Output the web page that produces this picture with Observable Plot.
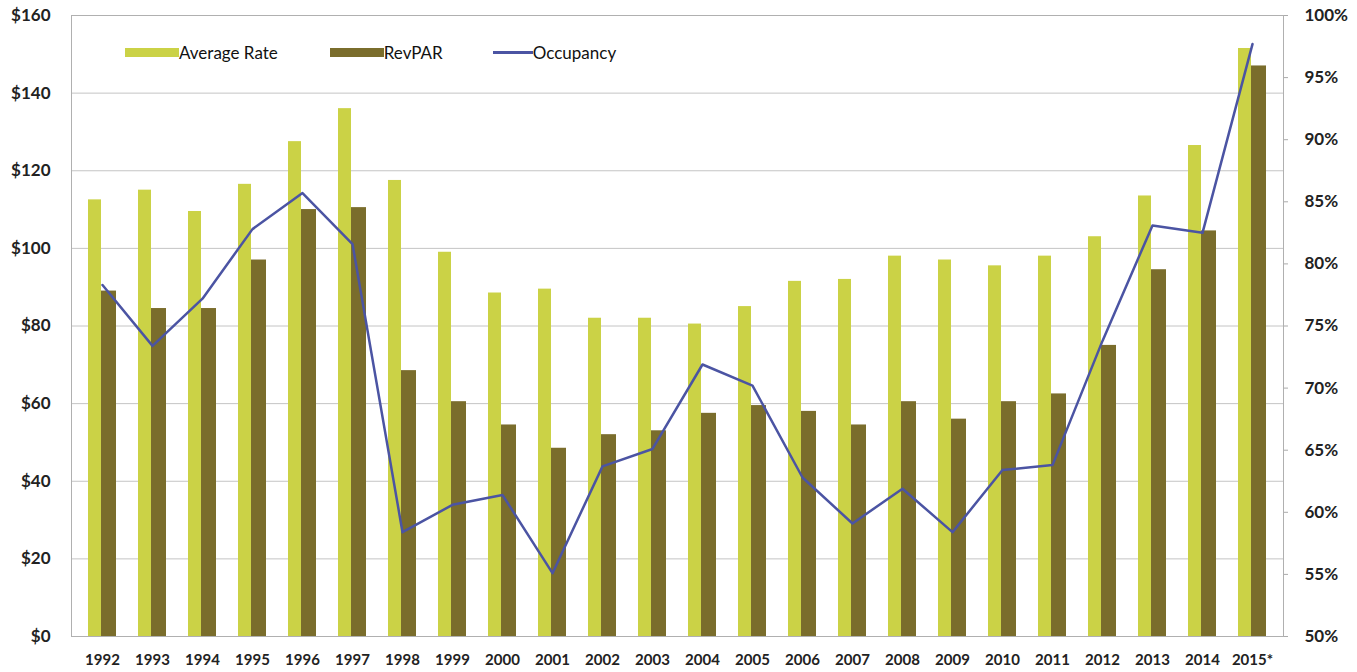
<!DOCTYPE html>
<html><head><meta charset="utf-8">
<script src="https://cdn.jsdelivr.net/npm/d3@7"></script>
<script src="https://cdn.jsdelivr.net/npm/@observablehq/plot@0.6"></script>
<style>
body{margin:0;background:#fff;font-family:Lato,"Open Sans",sans-serif;}
#wrap{position:relative;width:1357px;height:672px;}
#legend{position:absolute;top:42px;left:125px;display:flex;align-items:center;font-size:17px;color:#111;white-space:nowrap;}
.item{display:flex;align-items:center;}
.sw{display:inline-block;width:54px;height:9px;}
.ln{display:inline-block;width:40px;height:3px;}
</style></head>
<body><div id="wrap"><div id="legend"></div></div>
<script>
const years = ["1992","1993","1994","1995","1996","1997","1998","1999","2000","2001","2002","2003","2004","2005","2006","2007","2008","2009","2010","2011","2012","2013","2014","2015*"];
const avgRate = [112.5,115,109.5,116.5,127.5,136,117.5,99,88.5,89.5,82,82,80.5,85,91.5,92,98,97,95.5,98,103,113.5,126.5,151.5];
const revpar = [89,84.5,84.5,97,110,110.5,68.5,60.5,54.5,48.5,52,53,57.5,59.5,58,54.5,60.5,56,60.5,62.5,75,94.5,104.5,147];
const occupancy = [78.3,73.4,77.2,82.8,85.7,81.6,58.4,60.6,61.4,55.1,63.7,65.1,71.9,70.2,62.8,59.1,61.9,58.4,63.4,63.8,73.8,83.1,82.5,97.7];
const dollarTicks = [0,20,40,60,80,100,120,140,160];
const pctTicks = [50,55,60,65,70,75,80,85,90,95,100];
const seriesNames = ["Average Rate","RevPAR","Occupancy"];
const seriesColors = ["#cbd246","#7a6d2c","#4b54a3"];

const occToY = p => (p - 50) / 50 * 160;
const data = years.map((y,i)=>({year:y, avg:avgRate[i], rev:revpar[i], occ:occupancy[i]}));

const chart = Plot.plot({
  width:1357, height:672,
  marginLeft:71, marginRight:74, marginTop:15, marginBottom:36,
  style:{fontFamily:"Lato, 'Open Sans', sans-serif", background:"white", overflow:"visible"},
  x:{type:"band", domain:years, padding:0, axis:null},
  y:{domain:[0,160], axis:null},
  marks:[
    Plot.gridY(dollarTicks,{stroke:"#c4c4c4", strokeOpacity:1, strokeWidth:1}),
    Plot.frame({stroke:"#b0b0b0"}),
    Plot.barY(data,{x:"year", y:"avg", fill:seriesColors[0], insetLeft:11, insetRight:26}),
    Plot.barY(data,{x:"year", y:"rev", fill:seriesColors[1], insetLeft:24, insetRight:11}),
    Plot.line(data,{x:"year", y:d=>occToY(d.occ), stroke:seriesColors[2], strokeWidth:2.5}),
    Plot.axisY(dollarTicks,{anchor:"left", tickSize:0, tickPadding:21, tickFormat:d=>"$"+d, fontSize:17, fontWeight:"bold", fill:"#222", label:null}),
    Plot.axisY(pctTicks.map(occToY),{anchor:"right", tickSize:4, tickPadding:17, stroke:"#aaa", tickFormat:d=>Math.round(50 + d/160*50)+"%", fontSize:17, fontWeight:"bold", fill:"#222", label:null}),
    Plot.axisX({tickSize:0, tickPadding:18, fontSize:15, fontWeight:"bold", fill:"#222", label:null})
  ]
});
document.getElementById("wrap").appendChild(chart);

const legend = document.getElementById("legend");
const gaps = ["0px","52px","50px"];
seriesNames.forEach((name,i)=>{
  const item = document.createElement("div");
  item.className = "item";
  item.style.marginLeft = gaps[i];
  const sw = document.createElement("span");
  sw.className = i===2 ? "ln" : "sw";
  sw.style.background = seriesColors[i];
  const t = document.createElement("span");
  t.textContent = name;
  item.appendChild(sw); item.appendChild(t);
  legend.appendChild(item);
});
</script>
</body></html>
